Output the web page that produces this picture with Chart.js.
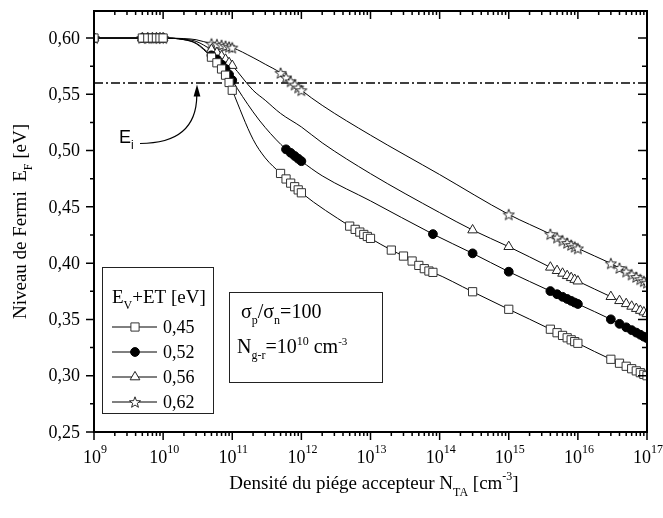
<!DOCTYPE html>
<html><head><meta charset="utf-8">
<script src="https://cdn.jsdelivr.net/npm/chart.js@4.4.1/dist/chart.umd.min.js"></script>
<style>html,body{margin:0;padding:0;background:#fff}#wrap{width:663px;height:518px}</style>
</head><body><div id="wrap"><canvas id="c" width="663" height="518"></canvas></div>
<script>
// ---------- data ----------
const seriesLabels = ['0,45', '0,52', '0,56', '0,62'];

const x045 = [1e9, 5e9,6e9,7e9,8e9,9e9,1e10, 5e10,6e10,7e10,8e10,9e10,1e11, 5e11,6e11,7e11,8e11,9e11,1e12,
  5e12,6e12,7e12,8e12,9e12,1e13, 2e13,3e13,4e13,5e13,6e13,7e13,8e13, 3e14, 1e15,
  4e15,5e15,6e15,7e15,8e15,9e15,1e16, 3e16,4e16,5e16,6e16,7e16,8e16,9e16,1e17];
const y045 = [0.600, 0.600,0.600,0.600,0.600,0.600,0.600, 0.583,0.578,0.5725,0.567,0.5605,0.5536,
  0.4797,0.4748,0.4711,0.4679,0.4651,0.4625, 0.4329,0.4300,0.4276,0.4255,0.4237,0.4220,
  0.4116,0.4063,0.4019,0.3980,0.3951,0.3930,0.3918, 0.3746, 0.3590,
  0.3413,0.3382,0.3358,0.3337,0.3319,0.3303,0.3288, 0.3146,0.3111,0.3084,0.3062,0.3043,0.3027,0.3012,0.3000];

const x052 = [1e9, 5e9,6e9,7e9,8e9,9e9,1e10, 5e10,6e10,7e10,8e10,9e10,1e11, 6e11,7e11,8e11,9e11,1e12,
  8e13, 3e14, 1e15, 4e15,5e15,6e15,7e15,8e15,9e15,1e16, 3e16,4e16,5e16,6e16,7e16,8e16,9e16,1e17];
const y052 = [0.600, 0.600,0.600,0.600,0.600,0.600,0.600, 0.5846,0.581,0.5765,0.5725,0.5675,0.5625,
  0.5011,0.498,0.4952,0.4928,0.4906, 0.4258, 0.4087, 0.3924,
  0.3752,0.3724,0.3701,0.3682,0.3665,0.3650,0.3637, 0.3501,0.3461,0.3430,0.3405,0.3383,0.3364,0.3347,0.3333];

const x056 = [1e9, 5e9,6e9,7e9,8e9,9e9,1e10, 5e10,6e10,7e10,8e10,9e10,1e11, 3e14, 1e15,
  4e15,5e15,6e15,7e15,8e15,9e15,1e16, 3e16,4e16,5e16,6e16,7e16,8e16,9e16,1e17];
const y056 = [0.600, 0.600,0.600,0.600,0.600,0.600,0.600, 0.5897,0.587,0.584,0.581,0.578,0.5755, 0.4294, 0.4146,
  0.3963,0.3933,0.3909,0.3888,0.3870,0.3854,0.3840, 0.3702,0.3666,0.3639,0.3616,0.3596,0.3579,0.3565,0.3550];

const x062 = [1e9, 5e9,6e9,7e9,8e9,9e9,1e10, 5e10,6e10,7e10,8e10,9e10,1e11, 5e11,6e11,7e11,8e11,9e11,1e12,
  1e15, 4e15,5e15,6e15,7e15,8e15,9e15,1e16, 3e16,4e16,5e16,6e16,7e16,8e16,9e16,1e17];
const y062 = [0.600, 0.600,0.600,0.600,0.600,0.600,0.600, 0.595,0.5944,0.5937,0.593,0.5922,0.5915,
  0.569,0.5649,0.5615,0.5586,0.556,0.5536, 0.4433,
  0.4258,0.4227,0.4201,0.4180,0.4162,0.4146,0.4131, 0.3998,0.3957,0.3925,0.3899,0.3877,0.3857,0.3840,0.3826];

// points of the drawn curves between the markers
const cx045 = [2e10, 3e10, 2e11, 3e11];
const cy045 = [0.5985, 0.5950, 0.510, 0.4935];
const cx052 = [2e10, 3e10, 2e11, 3e11, 2e12, 1e13];
const cy052 = [0.5986, 0.5955, 0.5344, 0.5205, 0.4776, 0.4553];
const cx056 = [2e10, 3e10, 2e11, 3e11, 5e11, 1e12, 2e12, 1e13, 1e14];
const cy056 = [0.5990, 0.5970, 0.5536, 0.5447, 0.533, 0.521, 0.5069, 0.4795, 0.4449];
const cx062 = [2e10, 3e10, 2e11, 3e11, 2e12, 1e13, 1e14];
const cy062 = [0.5995, 0.5985, 0.5826, 0.5767, 0.5402, 0.5137, 0.4787];

const intrinsicLevel = [0.56];          // E_i
const xRange = [1e9, 1e17];
const yRange = [0.25, 0.624];
const yTicks = [0.25, 0.30, 0.35, 0.40, 0.45, 0.50, 0.55, 0.60];
const yMinorTicks = [0.275, 0.325, 0.375, 0.425, 0.475, 0.525, 0.575];
const xExponents = [9, 10, 11, 12, 13, 14, 15, 16, 17];

// ---------- styles ----------
function makeStar(r) {
  const s = Math.ceil(r * 2 + 4), c = document.createElement('canvas');
  c.width = c.height = s;
  const g = c.getContext('2d'), cx = s / 2, cy = s / 2 + 0.6;
  g.beginPath();
  for (let i = 0; i < 10; i++) {
    const a = -Math.PI / 2 + i * Math.PI / 5, rr = i % 2 ? r * 0.42 : r;
    g.lineTo(cx + rr * Math.cos(a), cy + rr * Math.sin(a));
  }
  g.closePath(); g.fillStyle = '#fff'; g.fill();
  g.lineWidth = 0.9; g.strokeStyle = '#111'; g.stroke();
  return c;
}
const starImg = makeStar(5.8);
const mStyles = [
  {pointStyle: 'rect', radius: 5.8, bg: '#fff', bc: '#333'},
  {pointStyle: 'circle', radius: 4.4, bg: '#000', bc: '#000'},
  {pointStyle: 'triangle', radius: 5.6, bg: '#fff', bc: '#222'},
  {pointStyle: starImg, radius: 5.8, bg: '#fff', bc: '#111'}
];

const mx = [x045, x052, x056, x062], my = [y045, y052, y056, y062];
const cxs = [cx045, cx052, cx056, cx062], cys = [cy045, cy052, cy056, cy062];

const datasets = [];
for (let i = 0; i < 4; i++) {
  const pts = mx[i].map((v, k) => ({x: v, y: my[i][k]}));
  datasets.push({
    label: seriesLabels[i], data: pts, showLine: false, order: 0,
    pointStyle: mStyles[i].pointStyle, pointRadius: mStyles[i].radius,
    pointBackgroundColor: mStyles[i].bg, pointBorderColor: mStyles[i].bc, pointBorderWidth: 1
  });
}
for (let i = 0; i < 4; i++) {
  const pts = mx[i].map((v, k) => ({x: v, y: my[i][k]}))
    .concat(cxs[i].map((v, k) => ({x: v, y: cys[i][k]})))
    .sort((a, b) => a.x - b.x);
  datasets.push({
    label: 'curve ' + seriesLabels[i], data: pts, order: 1,
    borderColor: '#000', borderWidth: 1, pointRadius: 0, fill: false,
    cubicInterpolationMode: 'monotone'
  });
}
datasets.push({
  label: 'Ei', data: xRange.map(v => ({x: v, y: intrinsicLevel[0]})), order: 2,
  borderColor: '#000', borderWidth: 1.4, borderDash: [9, 3, 2, 3], pointRadius: 0
});

// ---------- rich text helper ----------
function drawRich(ctx, segs, x, y, size, fam, align) {
  const fsz = s => s.k === 'n' ? size : Math.round(size * (s.r || 0.66));
  let w = 0;
  for (const s of segs) { ctx.font = fsz(s) + 'px ' + fam; w += ctx.measureText(s.t).width; }
  let cx = align === 'center' ? x - w / 2 : align === 'right' ? x - w : x;
  ctx.textAlign = 'left'; ctx.textBaseline = 'alphabetic';
  for (const s of segs) {
    ctx.font = fsz(s) + 'px ' + fam;
    const dy = s.k === 'sub' ? size * (s.d || 0.3) : s.k === 'sup' ? -size * (s.d || 0.48) : 0;
    ctx.fillText(s.t, cx, y + dy);
    cx += ctx.measureText(s.t).width;
  }
}
const SERIF = '"Liberation Serif", "Times New Roman", serif';
const SANS = '"Liberation Sans", Arial, sans-serif';

const deco = {
  id: 'deco',
  afterDatasetsDraw(chart) {
    const {ctx, chartArea: a, scales: {x, y}} = chart;
    ctx.save();
    ctx.strokeStyle = '#000'; ctx.fillStyle = '#000';
    // frame
    ctx.lineWidth = 2;
    ctx.strokeRect(a.left, a.top, a.right - a.left, a.bottom - a.top);
    // ticks
    ctx.lineWidth = 1.5;
    ctx.beginPath();
    const hTick = (py, len) => {
      ctx.moveTo(a.left, py); ctx.lineTo(a.left - len, py);
      ctx.moveTo(a.right, py); ctx.lineTo(a.right - len - 1, py);
    };
    yTicks.forEach(v => hTick(y.getPixelForValue(v), 8));
    yMinorTicks.forEach(v => hTick(y.getPixelForValue(v), 4));
    const vTick = (px, len) => {
      ctx.moveTo(px, a.bottom); ctx.lineTo(px, a.bottom + len);
      ctx.moveTo(px, a.top); ctx.lineTo(px, a.top + len);
    };
    xExponents.forEach((e, i) => {
      vTick(x.getPixelForValue(Math.pow(10, e)), 8);
      if (i < xExponents.length - 1)
        for (let m = 2; m <= 9; m++) vTick(x.getPixelForValue(m * Math.pow(10, e)), 4);
    });
    ctx.stroke();
    // y tick labels
    ctx.font = '18px ' + SERIF; ctx.textAlign = 'right'; ctx.textBaseline = 'middle';
    yTicks.forEach(v => ctx.fillText(v.toFixed(2).replace('.', ','), a.left - 14, y.getPixelForValue(v) + 1));
    // x tick labels
    xExponents.forEach(e => {
      drawRich(ctx, [{t: '10', k: 'n'}, {t: String(e), k: 'sup', r: 0.66, d: 0.55}],
        x.getPixelForValue(Math.pow(10, e)) + 1, a.bottom + 31, 18, SERIF, 'center');
    });
    // axis titles
    drawRich(ctx, [{t: 'Densité du piége accepteur N', k: 'n'}, {t: 'TA', k: 'sub', r: 0.62, d: 0.35},
      {t: ' [cm', k: 'n'}, {t: '-3', k: 'sup', r: 0.62, d: 0.45}, {t: ']', k: 'n'}],
      374, 489, 19, SERIF, 'center');
    ctx.save();
    ctx.translate(26, (a.top + a.bottom) / 2);
    ctx.rotate(-Math.PI / 2);
    drawRich(ctx, [{t: 'Niveau de Fermi  E', k: 'n'}, {t: 'F', k: 'sub', r: 0.62, d: 0.3}, {t: ' [eV]', k: 'n'}],
      0, 0, 19, SERIF, 'center');
    ctx.restore();

    // legend box
    ctx.lineWidth = 1; ctx.strokeStyle = '#222';
    ctx.strokeRect(102.5, 267.5, 111, 146);
    ctx.fillStyle = '#000';
    drawRich(ctx, [{t: 'E', k: 'n'}, {t: 'V', k: 'sub', r: 0.62, d: 0.3}, {t: '+ET [eV]', k: 'n'}],
      112, 303, 19, SERIF, 'left');
    seriesLabels.forEach((lab, i) => {
      const ly = 327 + i * 25;
      ctx.strokeStyle = '#000'; ctx.lineWidth = 1;
      ctx.beginPath(); ctx.moveTo(112, ly); ctx.lineTo(157, ly); ctx.stroke();
      const st = mStyles[i];
      ctx.fillStyle = st.bg; ctx.strokeStyle = st.bc; ctx.lineWidth = 1;
      Chart.helpers.drawPoint(ctx, {pointStyle: st.pointStyle, radius: st.radius, rotation: 0, borderWidth: 1}, 135, ly);
      ctx.fillStyle = '#000';
      ctx.font = '18px ' + SERIF; ctx.textAlign = 'left'; ctx.textBaseline = 'middle';
      ctx.fillText(lab, 163, ly + 1);
    });

    // parameter box
    ctx.strokeStyle = '#222'; ctx.lineWidth = 1;
    ctx.strokeRect(229.5, 292.5, 153, 90);
    ctx.fillStyle = '#000';
    drawRich(ctx, [{t: 'σ', k: 'n'}, {t: 'p', k: 'sub', r: 0.62, d: 0.3}, {t: '/σ', k: 'n'},
      {t: 'n', k: 'sub', r: 0.62, d: 0.3}, {t: '=100', k: 'n'}], 241, 318, 20, SERIF, 'left');
    drawRich(ctx, [{t: 'N', k: 'n'}, {t: 'g-r', k: 'sub', r: 0.62, d: 0.3}, {t: '=10', k: 'n'},
      {t: '10', k: 'sup', r: 0.62, d: 0.42}, {t: ' cm', k: 'n'}, {t: '-3', k: 'sup', r: 0.55, d: 0.42}],
      237, 353, 20, SERIF, 'left');

    // E_i label with arrow
    drawRich(ctx, [{t: 'E', k: 'n'}, {t: 'i', k: 'sub', r: 0.66, d: 0.35}], 119, 143, 18, SANS, 'left');
    const tipY = y.getPixelForValue(intrinsicLevel[0]) + 1.5;
    ctx.strokeStyle = '#000'; ctx.lineWidth = 1.2;
    ctx.beginPath(); ctx.moveTo(140, 143.5);
    ctx.bezierCurveTo(172, 143.5, 196.5, 132, 196.8, tipY + 11);
    ctx.stroke();
    ctx.beginPath(); ctx.moveTo(197, tipY); ctx.lineTo(193.6, tipY + 12); ctx.lineTo(200.4, tipY + 12); ctx.closePath(); ctx.fill();
    ctx.restore();
  }
};

new Chart(document.getElementById('c'), {
  type: 'line',
  data: {datasets},
  options: {
    responsive: false, animation: false, devicePixelRatio: 1,
    layout: {padding: {left: 94, right: 16, top: 11, bottom: 86}},
    plugins: {legend: {display: false}, tooltip: {enabled: false}},
    scales: {
      x: {type: 'logarithmic', min: xRange[0], max: xRange[1], display: false},
      y: {type: 'linear', min: yRange[0], max: yRange[1], display: false}
    }
  },
  plugins: [deco]
});
</script></body></html>
